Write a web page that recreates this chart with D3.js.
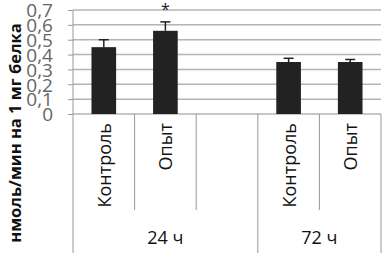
<!DOCTYPE html>
<html>
<head>
<meta charset="utf-8">
<script src="https://cdn.jsdelivr.net/npm/d3@7"></script>
<style>
  body { margin: 0; background: #fff; }
  text { font-family: "Open Sans", sans-serif; }
</style>
</head>
<body>
<div id="chart"></div>
<script>
// slots along the x axis, the blank one separates the two time points
const slots = ["c24", "o24", "gap", "c72", "o72"];
const slotLabels = ["Контроль", "Опыт", "", "Контроль", "Опыт"];
const values = [0.45, 0.56, null, 0.35, 0.35];
const errors = [0.05, 0.06, null, 0.025, 0.017];
const marks = ["", "*", "", "", ""];
const groups = ["24 ч", "72 ч"];
const groupSlots = [["c24", "o24", "gap"], ["c72", "o72"]];
const yTicks = [0, 0.1, 0.2, 0.3, 0.4, 0.5, 0.6, 0.7];

(function() {
  const width = 383, height = 253;
  const plot = { left: 73, right: 381, top: 10, bottom: 114 };

  const x = d3.scaleBand().domain(slots).range([plot.left, plot.right]).padding(0);
  const y = d3.scaleLinear().domain([0, 0.7]).range([plot.bottom, plot.top]);
  const fmt = d3.formatLocale({ decimal: ",", thousands: " ", grouping: [3], currency: ["", ""] }).format(".1f");

  const svg = d3.select("#chart")
    .append("svg")
      .attr("width", width)
      .attr("height", height);

  // gridlines
  svg.selectAll(".grid")
    .data(yTicks)
    .enter().append("line")
      .attr("class", "grid")
      .attr("x1", plot.left)
      .attr("x2", plot.right)
      .attr("y1", d => y(d))
      .attr("y2", d => y(d))
      .attr("stroke", "#b4b4b4")
      .attr("stroke-width", 1.5);

  // y axis
  const yAxis = svg.append("g")
    .attr("transform", `translate(${plot.left},0)`)
    .call(d3.axisLeft(y).tickValues(yTicks).tickFormat(d => d === 0 ? "0" : fmt(d)).tickSize(5).tickPadding(15));
  yAxis.select(".domain").remove();
  yAxis.selectAll(".tick line").attr("stroke", "#999");
  yAxis.selectAll(".tick text")
    .attr("fill", "#666")
    .attr("dy", "0.36em")
    .style("font-size", "19px")
    .style("font-family", "'Open Sans', sans-serif");

  // axis line, long to the bottom
  svg.append("line")
    .attr("x1", plot.left).attr("x2", plot.left)
    .attr("y1", plot.top).attr("y2", height)
    .attr("stroke", "#999").attr("stroke-width", 1);

  // category separators
  const innerEdges = [];
  const groupEdges = [];
  groupSlots.forEach(g => {
    g.forEach((s, i) => {
      if (i > 0) innerEdges.push(x(s));
    });
    groupEdges.push(x(g[g.length - 1]) + x.bandwidth());
  });

  svg.selectAll(".inner-sep")
    .data(innerEdges)
    .enter().append("line")
      .attr("x1", d => d).attr("x2", d => d)
      .attr("y1", plot.bottom).attr("y2", 210)
      .attr("stroke", "#999");

  svg.selectAll(".group-sep")
    .data(groupEdges)
    .enter().append("line")
      .attr("x1", d => d).attr("x2", d => d)
      .attr("y1", plot.bottom).attr("y2", height)
      .attr("stroke", "#999");

  // bars
  const barW = x.bandwidth() * 0.4;
  const barData = slots.map((s, i) => ({ slot: s, value: values[i], err: errors[i], mark: marks[i], label: slotLabels[i] }));
  const withValue = barData.filter(d => d.value !== null);

  svg.selectAll(".bar")
    .data(withValue)
    .enter().append("rect")
      .attr("class", "bar")
      .attr("x", d => x(d.slot) + (x.bandwidth() - barW) / 2)
      .attr("width", barW)
      .attr("y", d => y(d.value))
      .attr("height", d => y(0) - y(d.value))
      .attr("fill", "#222");

  // error bars (upper part)
  const err = svg.selectAll(".err")
    .data(withValue)
    .enter().append("g")
      .attr("class", "err")
      .attr("transform", d => `translate(${x(d.slot) + x.bandwidth() / 2},0)`);
  err.append("line")
    .attr("y1", d => y(d.value))
    .attr("y2", d => y(d.value + d.err))
    .attr("stroke", "#222").attr("stroke-width", 1.5);
  err.append("line")
    .attr("x1", -5).attr("x2", 5)
    .attr("y1", d => y(d.value + d.err))
    .attr("y2", d => y(d.value + d.err))
    .attr("stroke", "#222").attr("stroke-width", 1.5);

  // significance mark
  svg.selectAll(".mark")
    .data(withValue.filter(d => d.mark))
    .enter().append("text")
      .attr("x", d => x(d.slot) + x.bandwidth() / 2)
      .attr("y", d => y(d.value + d.err) - 7)
      .attr("text-anchor", "middle")
      .style("font-size", "16px")
      .attr("fill", "#222")
      .text(d => d.mark);

  // category labels
  svg.selectAll(".cat")
    .data(barData.filter(d => d.label))
    .enter().append("text")
      .attr("class", "cat")
      .attr("transform", d => `translate(${x(d.slot) + x.bandwidth() / 2 + 7},123) rotate(-90)`)
      .attr("text-anchor", "end")
      .style("font-size", "18px")
      .attr("fill", "#111")
      .text(d => d.label);

  // group labels
  svg.selectAll(".group")
    .data(groups)
    .enter().append("text")
      .attr("x", (d, i) => {
        const g = groupSlots[i];
        return (x(g[0]) + x(g[g.length - 1]) + x.bandwidth()) / 2;
      })
      .attr("y", 244)
      .attr("text-anchor", "middle")
      .style("font-size", "18px")
      .attr("fill", "#111")
      .text(d => d);

  // y title
  svg.append("text")
    .attr("transform", "translate(21,133) rotate(-90)")
    .attr("text-anchor", "middle")
    .style("font-size", "16.5px")
    .style("font-weight", "bold")
    .attr("fill", "#111")
    .text("нмоль/мин на 1 мг белка");
})();
</script>
</body>
</html>
